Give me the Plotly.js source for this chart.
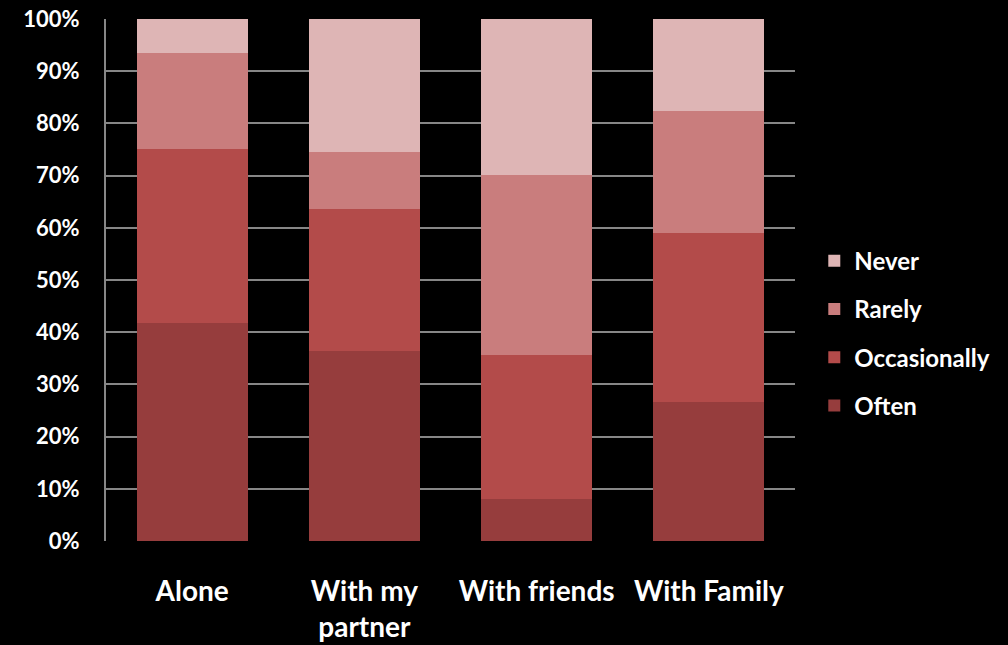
<!DOCTYPE html>
<html>
<head>
<meta charset="utf-8">
<script src="https://cdn.plot.ly/plotly-3.0.1.min.js"></script>
<style>html,body{margin:0;padding:0;background:#000;}#chart{width:1008px;height:645px;}</style>
</head>
<body>
<div id="chart"></div>
<script>
const categories = ["Alone", "With my<br>partner", "With friends", "With Family"];
const often = [41.8, 36.4, 8.0, 26.6];
const occasionally = [33.3, 27.2, 27.6, 32.4];
const rarely = [18.4, 10.9, 34.5, 23.4];
const never = [6.5, 25.5, 29.9, 17.6];
const yTickVals = [0, 10, 20, 30, 40, 50, 60, 70, 80, 90, 100];
const yTickText = ["0%", "10%", "20%", "30%", "40%", "50%", "60%", "70%", "80%", "90%", "100%"];

const series = [
  {name: "Often", y: often, color: "#963D3D", rank: 4},
  {name: "Occasionally", y: occasionally, color: "#B34B4A", rank: 3},
  {name: "Rarely", y: rarely, color: "#C97D7D", rank: 2},
  {name: "Never", y: never, color: "#DEB5B5", rank: 1}
];
const traces = series.map(s => ({
  type: "bar", x: categories, y: s.y, name: s.name, legendgroup: s.name, legendrank: s.rank,
  marker: {color: s.color, line: {width: 0}}, hoverinfo: "skip"
}));
const font = "Lato, 'Open Sans', sans-serif";
const layout = {
  width: 1008, height: 645,
  paper_bgcolor: "#000", plot_bgcolor: "#000",
  barmode: "stack", bargap: 0.355,
  margin: {l: 106, r: 213, t: 19, b: 104, autoexpand: false},
  font: {family: font, color: "#fff"},
  xaxis: {tickfont: {size: 28, family: font, color: "#fff", weight: "bold"}, showline: false, ticks: "", ticklabelstandoff: 31, fixedrange: true},
  yaxis: {range: [0, 100], tickvals: yTickVals, ticktext: yTickText, tickfont: {size: 22, family: font, color: "#fff", weight: "bold"},
          showgrid: true, gridcolor: "#868686", gridwidth: 2, showline: true, linecolor: "#868686", linewidth: 2,
          zeroline: false, ticks: "", ticklabelstandoff: 20, fixedrange: true},
  legend: {x: 1.028, y: 0.398, yanchor: "middle", xanchor: "left", traceorder: "grouped", tracegroupgap: 14,
           font: {size: 24, family: font, color: "#fff", weight: "bold"}, bgcolor: "rgba(0,0,0,0)"},
  showlegend: true
};
Plotly.newPlot("chart", traces, layout, {displayModeBar: false, staticPlot: true});
</script>
</body>
</html>
